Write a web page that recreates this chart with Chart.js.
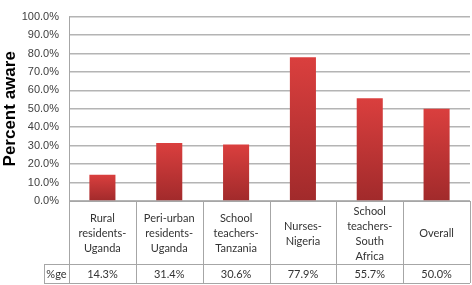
<!DOCTYPE html>
<html>
<head>
<meta charset="utf-8">
<script src="https://cdn.jsdelivr.net/npm/chart.js@4"></script>
<style>
  html, body { margin:0; padding:0; background:#fff; }
  #wrap { width:472px; height:285px; }
</style>
</head>
<body>
<div id="wrap"><canvas id="chartAware" width="472" height="285"></canvas></div>
<script>
// ==================== Data ====================
const categories = [
  ['Rural', 'residents-', 'Uganda'],
  ['Peri-urban', 'residents-', 'Uganda'],
  ['School', 'teachers-', 'Tanzania'],
  ['Nurses-', 'Nigeria'],
  ['School', 'teachers-', 'South', 'Africa'],
  ['Overall']
];
const percentAware = [14.3, 31.4, 30.6, 77.9, 55.7, 50.0];
const tableRowLabel = '%ge';
const yTicks = [0, 10, 20, 30, 40, 50, 60, 70, 80, 90, 100];

const lineCol = '#a6a6a6';
const tableFont = '11px Lato, "Open Sans", sans-serif';

// ==================== Table plugin ====================
const dataTable = {
  id: 'dataTable',
  afterDraw(chart) {
    const c = chart.ctx;
    const x = chart.scales.x;
    const area = chart.chartArea;
    const top = area.bottom;
    const mid = top + 63;
    const bot = mid + 19;
    const left = area.left;
    const right = area.right;
    const half = (x.getPixelForValue(1) - x.getPixelForValue(0)) / 2;

    c.save();
    c.strokeStyle = lineCol;
    c.lineWidth = 1;
    // horizontal lines
    c.beginPath();
    c.moveTo(left, top + 0.5); c.lineTo(right, top + 0.5);
    c.moveTo(44, mid + 0.5); c.lineTo(right, mid + 0.5);
    c.moveTo(44, bot + 0.5); c.lineTo(right, bot + 0.5);
    // vertical lines
    c.moveTo(left + 0.5, area.top); c.lineTo(left + 0.5, bot);
    c.moveTo(44.5, mid); c.lineTo(44.5, bot);
    categories.forEach((_, i) => {
      const xr = Math.round(x.getPixelForValue(i) + half) + 0.5;
      c.moveTo(xr, top); c.lineTo(xr, bot);
    });
    c.stroke();

    // text
    c.fillStyle = '#333';
    c.font = tableFont;
    c.textAlign = 'center';
    c.textBaseline = 'middle';
    const lh = 15;
    categories.forEach((lines, i) => {
      const cx = x.getPixelForValue(i);
      const cy = (top + mid) / 2 + 1;
      const y0 = cy - (lines.length - 1) * lh / 2;
      lines.forEach((t, k) => c.fillText(t, cx, y0 + k * lh));
      c.fillText(percentAware[i].toFixed(1) + '%', cx, (mid + bot) / 2 + 1);
    });
    c.fillText(tableRowLabel, (44 + left) / 2, (mid + bot) / 2 + 1);
    c.restore();
  }
};

// ==================== Chart ====================
const ctx = document.getElementById('chartAware').getContext('2d');

function barFill(context) {
  const chart = context.chart;
  const y = chart.scales.y;
  if (!y || !chart.chartArea) return '#c83232';
  const v = context.raw;
  const g = chart.ctx.createLinearGradient(0, y.getPixelForValue(v), 0, y.getPixelForValue(0));
  g.addColorStop(0, '#da3f3e');
  g.addColorStop(1, '#a12a2b');
  return g;
}

new Chart(ctx, {
  type: 'bar',
  data: {
    labels: categories.map(l => l.join(' ')),
    datasets: [{
      data: percentAware,
      backgroundColor: barFill,
      borderColor: 'rgba(240,120,120,0.6)',
      borderWidth: 0,
      categoryPercentage: 1,
      barPercentage: 0.39
    }]
  },
  options: {
    responsive: false,
    animation: false,
    layout: { padding: { top: 5, right: 2, bottom: 84, left: 0 } },
    plugins: { legend: { display: false }, tooltip: { enabled: false } },
    scales: {
      x: { display: false },
      y: {
        min: 0, max: 100,
        afterFit(scale) { scale.width = 69; },
        afterBuildTicks(scale) { scale.ticks = yTicks.map(v => ({ value: v })); },
        ticks: {
          padding: 10,
          color: '#404040',
          font: { family: '"Liberation Sans", Arial, sans-serif', size: 11 },
          callback: v => v.toFixed(1) + '%'
        },
        grid: { color: '#b4b4b4', lineWidth: 1.5, drawTicks: false },
        border: { display: false },
        title: {
          display: true,
          text: 'Percent aware',
          color: '#000',
          font: { family: '"Liberation Sans", Arial, sans-serif', size: 17, weight: 'bold' },
          padding: { top: 0, bottom: 0 }
        }
      }
    }
  },
  plugins: [dataTable]
});
</script>
</body>
</html>
